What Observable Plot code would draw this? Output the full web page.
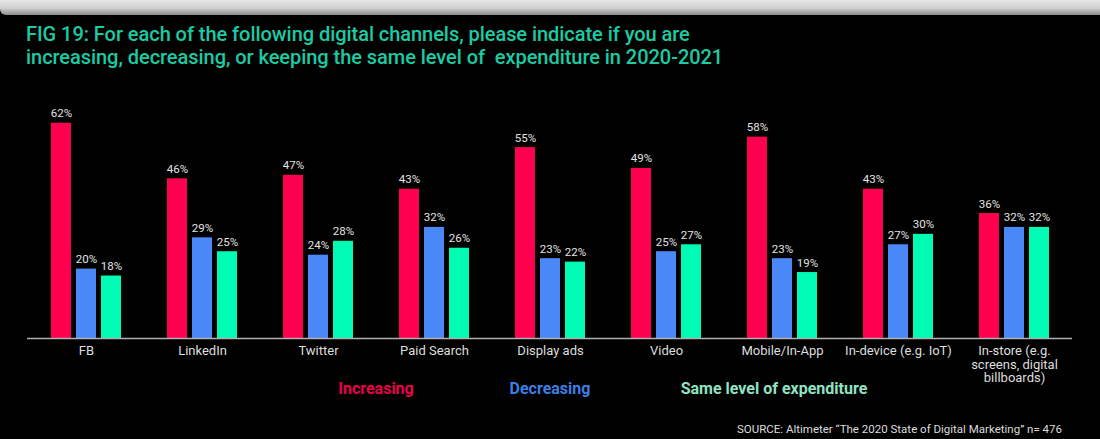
<!DOCTYPE html>
<html>
<head>
<meta charset="utf-8">
<script src="https://cdn.jsdelivr.net/npm/d3@7"></script>
<script src="https://cdn.jsdelivr.net/npm/@observablehq/plot@0.6"></script>
<style>
  html, body { margin: 0; padding: 0; background: #000; }
  #wrap { position: relative; width: 1100px; height: 439px; overflow: hidden; background: #000; font-family: Roboto, "Noto Sans", sans-serif; }
  #strip { position: absolute; left: 0; top: 0; width: 1100px; height: 15px; border-bottom-left-radius: 6px;
           background: linear-gradient(to bottom, #e8e8e8 0%, #cfcfcf 55%, #8a8a8a 100%); }
  #title { position: absolute; left: 26px; top: 23px; color: #1ccba3; font-size: 20px; font-weight: 500; line-height: 22.5px; white-space: nowrap; letter-spacing: -0.05px; }
  #chart { position: absolute; left: 0; top: 72px; }
  .leg { position: absolute; top: 379px; font-size: 16px; font-weight: 700; white-space: nowrap; transform: translateX(-50%); }
  #source { position: absolute; right: 38px; top: 422px; color: #dcdcdc; font-size: 11.5px; white-space: nowrap; }
</style>
</head>
<body>
<div id="wrap">
  <div id="strip"></div>
  <div id="title">FIG 19: For each of the following digital channels, please indicate if you are<br>increasing, decreasing, or keeping the same level of&nbsp; expenditure in 2020-2021</div>
  <div id="chart"></div>
  <div id="legend"></div>
  <div id="source">SOURCE: Altimeter “The 2020 State of Digital Marketing” n= 476</div>
</div>
<script>
const categories = ["FB", "LinkedIn", "Twitter", "Paid Search", "Display ads", "Video", "Mobile/In-App", "In-device (e.g. IoT)", "In-store (e.g.\nscreens, digital\nbillboards)"];
const series = ["Increasing", "Decreasing", "Same level of expenditure"];
const increasing = [62, 46, 47, 43, 55, 49, 58, 43, 36];
const decreasing = [20, 29, 24, 32, 23, 25, 23, 27, 32];
const same = [18, 25, 28, 26, 22, 27, 19, 30, 32];
const colors = ["#ff0050", "#4a88f8", "#00fcb4"];
const legendColors = ["#ea004b", "#3b7fe6", "#8fe3c3"];

const seriesValues = [increasing, decreasing, same];
const rows = [];
series.forEach((s, si) => categories.forEach((c, ci) => rows.push({category: c, series: s, value: seriesValues[si][ci]})));

const offsets = [-25, 0, 25];
const marks = [];
series.forEach((s, i) => {
  const data = rows.filter(d => d.series === s);
  marks.push(Plot.barY(data, {x: "category", y: "value", fill: "series", dx: offsets[i], insetLeft: 48, insetRight: 48}));
  marks.push(Plot.text(data, {x: "category", y: "value", text: d => d.value + "%", dx: offsets[i], dy: -6, lineAnchor: "bottom", fill: "#e4e4e4", fontSize: 11.5}));
});
marks.push(Plot.ruleY([0], {stroke: "#b0b0b0", strokeWidth: 1.5}));
marks.push(Plot.text(categories, {x: d => d, y: () => 0, dy: 7, lineAnchor: "top", lineHeight: 1.05, fill: "#dedede", fontSize: 13, text: d => d}));

const chart = Plot.plot({
  width: 1100,
  height: 316,
  marginLeft: 27,
  marginRight: 28,
  marginTop: 23,
  marginBottom: 50,
  x: {domain: categories, padding: 0, axis: null},
  y: {domain: [0, 70], axis: null},
  color: {domain: series, range: colors},
  style: {background: "transparent", color: "#ddd", fontFamily: "Roboto, sans-serif", overflow: "visible"},
  marks
});
document.getElementById("chart").appendChild(chart);

const legendX = [376, 550, 774];
const legend = document.getElementById("legend");
series.forEach((s, i) => {
  const el = document.createElement("div");
  el.className = "leg";
  el.style.left = legendX[i] + "px";
  el.style.color = legendColors[i];
  el.textContent = s;
  legend.appendChild(el);
});
</script>
</body>
</html>
